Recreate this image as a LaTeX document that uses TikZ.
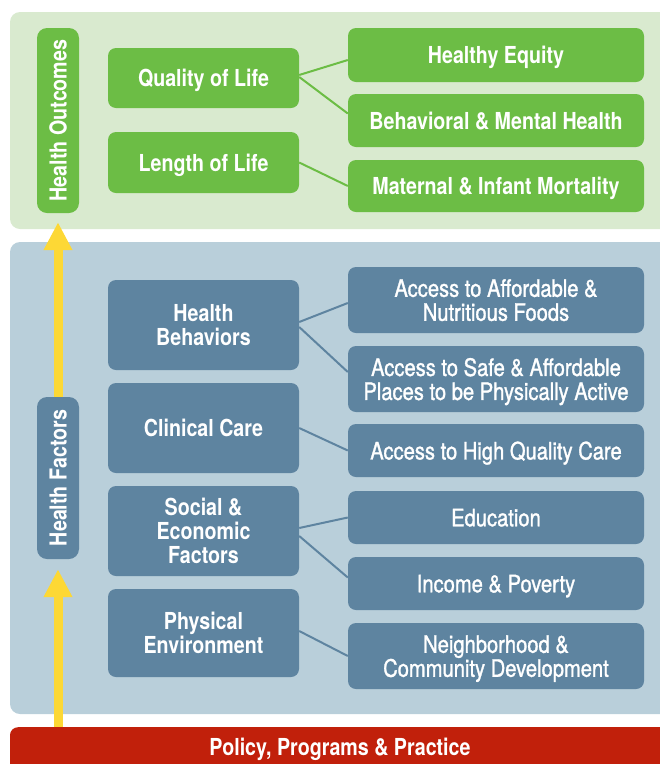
\documentclass[tikz,border=0pt]{standalone}
\usepackage{fontspec}
\setmainfont{TeX Gyre Heros}[FakeStretch=0.84]
\newfontfamily\medfont{TeX Gyre Heros}[FakeStretch=0.84, FakeBold=1.2]
\usepackage{tikz}
\usetikzlibrary{positioning,calc,arrows.meta}

\definecolor{outpanel}{HTML}{D9EACF}
\definecolor{outgreen}{HTML}{6CBD45}
\definecolor{factpanel}{HTML}{B9CFDA}
\definecolor{factblue}{HTML}{5E84A0}
\definecolor{policyred}{HTML}{C1200B}
\definecolor{upyellow}{HTML}{FDD835}

\newcommand{\boxfont}{\fontsize{23.4}{24}\selectfont}

\tikzset{
  box/.style={rounded corners=8pt, text=white, align=center, inner sep=0pt, text depth=0pt, font=\bfseries\boxfont},
  outleft/.style={box, fill=outgreen, minimum width=191pt},
  outright/.style={box, fill=outgreen, minimum width=296pt},
  factleft/.style={box, fill=factblue, minimum width=191pt, minimum height=90pt},
  factright/.style={box, fill=factblue, minimum width=296pt, font=\medfont\fontsize{24}{24}\selectfont},
  sidebox/.style={box, rotate=90, minimum height=42pt, rounded corners=10pt},
  link/.style={line width=2pt},
  uparrow/.style={draw=upyellow, line width=9pt, -{Triangle[width=27pt,length=28pt]}}
}

\begin{document}
\begin{tikzpicture}[x=1pt, y=-1pt]
    \useasboundingbox (0,0) rectangle (660,764);
    \fill[outpanel, rounded corners=10pt] (10,12) rectangle (672,229);
    \fill[factpanel, rounded corners=10pt] (10,242) rectangle (672,714);

    % health outcomes
    \node [sidebox, fill=outgreen, minimum width=185pt] (ho) at (58,120.5) {Health Outcomes};
    \node [outleft, minimum height=60pt] (qol) at (203.5,78) {Quality of Life};
    \node [outleft, minimum height=61pt] (lol) at (203.5,162.5) {Length of Life};
    \node [outright, minimum height=54pt] (he) at (496,55) {Healthy Equity};
    \node [outright, minimum height=53pt] (bmh) at (496,120.5) {Behavioral \& Mental Health};
    \node [outright, minimum height=52pt] (mim) at (496,186) {Maternal \& Infant Mortality};

    \draw [link, outgreen] ([yshift=3pt]qol.east) -- ([yshift=-5pt]he.west);
    \draw [link, outgreen] ([yshift=1pt]qol.east) -- ([yshift=7pt]bmh.west);
    \draw [link, outgreen] (lol.east) -- (mim.west);

    % health factors
    \node [sidebox, fill=factblue, minimum width=162pt] (hf) at (58,478) {Health Factors};
    \node [factleft] (hb) at (203.5,325) {Health\\Behaviors};
    \node [factleft] (cc) at (203.5,428) {Clinical Care};
    \node [factleft] (sef) at (203.5,531) {Social \&\\Economic\\Factors};
    \node [factleft, minimum height=88pt] (pe) at (203.5,633) {Physical\\Environment};
    \node [factright, minimum height=66pt] (aff) at (496,300) {Access to Affordable \&\\Nutritious Foods};
    \node [factright, minimum height=66pt] (safe) at (496,379) {Access to Safe \& Affordable\\Places to be Physically Active};
    \node [factright, minimum height=53pt] (hqc) at (496,450.5) {Access to High Quality Care};
    \node [factright, minimum height=53pt] (edu) at (496,517.5) {Education};
    \node [factright, minimum height=53pt] (inc) at (496,583.5) {Income \& Poverty};
    \node [factright, minimum height=66pt] (nbh) at (496,656) {Neighborhood \&\\Community Development};

    \draw [link, factblue] ([yshift=3pt]hb.east) -- ([yshift=-3pt]aff.west);
    \draw [link, factblue] ([yshift=-2pt]hb.east) -- ([yshift=7pt]safe.west);
    \draw [link, factblue] (cc.east) -- (hqc.west);
    \draw [link, factblue] ([yshift=3pt]sef.east) -- (edu.west);
    \draw [link, factblue] ([yshift=-5pt]sef.east) -- ([yshift=6pt]inc.west);
    \draw [link, factblue] ([yshift=2pt]pe.east) -- (nbh.west);

    % policy bar
    \node [box, fill=policyred, anchor=north, minimum width=660pt, text height=28pt, text depth=35pt] (policy) at (340,727) {Policy, Programs \& Practice};

    % rotated boxes: east is the top end, west the bottom end
    \draw [uparrow, shorten >=9pt] (hf.east) -- (ho.west);
    \draw [uparrow, shorten >=10pt] (hf.west |- policy.north) -- (hf.west);
\end{tikzpicture}
\end{document}
